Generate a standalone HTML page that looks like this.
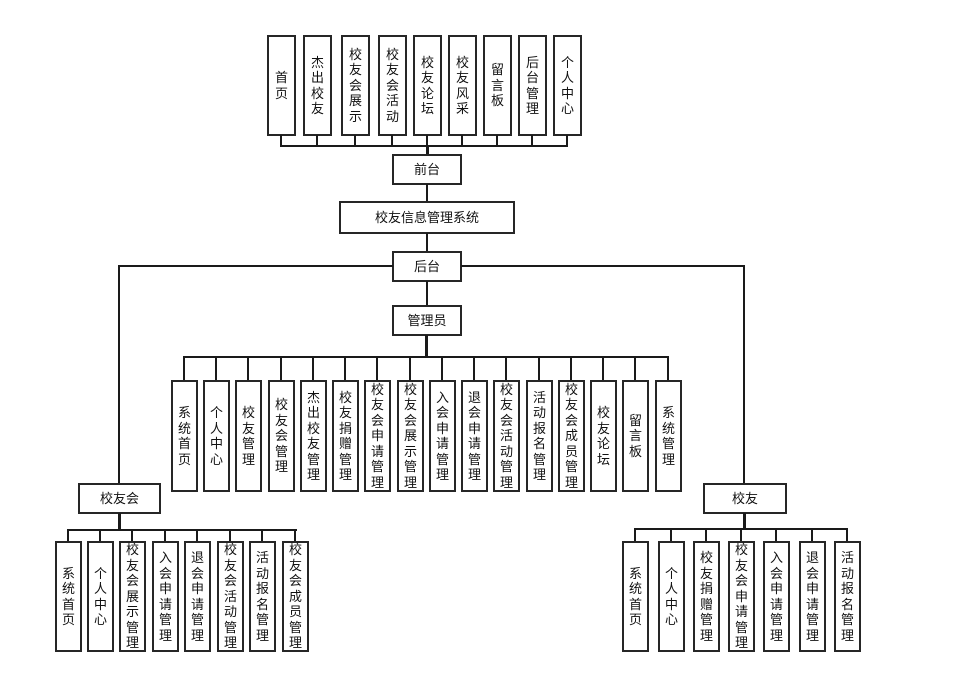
<!DOCTYPE html>
<html><head><meta charset="utf-8"><style>
body{margin:0;background:#fff;}
#c{position:relative;width:978px;height:686px;overflow:hidden;background:#fff;font-family:"Liberation Sans","Noto Sans CJK SC",sans-serif;color:#111;}
.b{position:absolute;border:2px solid #262626;box-sizing:border-box;background:#fff;display:flex;align-items:center;justify-content:center;text-align:center;font-size:13px;line-height:15.5px;}
.h{position:absolute;height:2px;background:#1a1a1a;}
.v{position:absolute;width:2px;background:#1a1a1a;}
</style></head><body><div id="c">
<!-- top row -->
<div class="b" style="left:267px;top:35px;width:29px;height:101px">首<br>页</div>
<div class="b" style="left:303px;top:35px;width:29px;height:101px">杰<br>出<br>校<br>友</div>
<div class="b" style="left:341px;top:35px;width:29px;height:101px">校<br>友<br>会<br>展<br>示</div>
<div class="b" style="left:378px;top:35px;width:29px;height:101px">校<br>友<br>会<br>活<br>动</div>
<div class="b" style="left:413px;top:35px;width:29px;height:101px">校<br>友<br>论<br>坛</div>
<div class="b" style="left:448px;top:35px;width:29px;height:101px">校<br>友<br>风<br>采</div>
<div class="b" style="left:483px;top:35px;width:29px;height:101px">留<br>言<br>板</div>
<div class="b" style="left:518px;top:35px;width:29px;height:101px">后<br>台<br>管<br>理</div>
<div class="b" style="left:553px;top:35px;width:29px;height:101px">个<br>人<br>中<br>心</div>
<div class="v" style="left:280px;top:135px;height:11px"></div>
<div class="v" style="left:316px;top:135px;height:11px"></div>
<div class="v" style="left:354px;top:135px;height:11px"></div>
<div class="v" style="left:391px;top:135px;height:11px"></div>
<div class="v" style="left:426px;top:135px;height:11px"></div>
<div class="v" style="left:461px;top:135px;height:11px"></div>
<div class="v" style="left:496px;top:135px;height:11px"></div>
<div class="v" style="left:531px;top:135px;height:11px"></div>
<div class="v" style="left:566px;top:135px;height:11px"></div>
<div class="h" style="left:280px;top:145px;width:288px"></div>
<div class="v" style="left:426px;top:145px;height:10px;width:3px"></div>
<div class="b" style="left:392px;top:154px;width:70px;height:31px">前台</div>
<div class="v" style="left:426px;top:184px;height:18px"></div>
<div class="b" style="left:339px;top:201px;width:176px;height:33px">校友信息管理系统</div>
<div class="v" style="left:426px;top:233px;height:19px"></div>
<div class="b" style="left:392px;top:251px;width:70px;height:31px">后台</div>
<div class="h" style="left:118px;top:265px;width:275px"></div>
<div class="h" style="left:461px;top:265px;width:284px"></div>
<div class="v" style="left:118px;top:265px;height:219px"></div>
<div class="v" style="left:743px;top:265px;height:219px"></div>
<div class="v" style="left:426px;top:281px;height:25px"></div>
<div class="b" style="left:392px;top:305px;width:70px;height:31px">管理员</div>
<div class="v" style="left:425px;top:335px;height:23px;width:3px"></div>
<div class="h" style="left:183px;top:356px;width:486px"></div>
<!-- admin -->
<div class="v" style="left:183px;top:356px;height:25px"></div>
<div class="v" style="left:215px;top:356px;height:25px"></div>
<div class="v" style="left:247px;top:356px;height:25px"></div>
<div class="v" style="left:280px;top:356px;height:25px"></div>
<div class="v" style="left:312px;top:356px;height:25px"></div>
<div class="v" style="left:344px;top:356px;height:25px"></div>
<div class="v" style="left:376px;top:356px;height:25px"></div>
<div class="v" style="left:409px;top:356px;height:25px"></div>
<div class="v" style="left:441px;top:356px;height:25px"></div>
<div class="v" style="left:473px;top:356px;height:25px"></div>
<div class="v" style="left:505px;top:356px;height:25px"></div>
<div class="v" style="left:538px;top:356px;height:25px"></div>
<div class="v" style="left:570px;top:356px;height:25px"></div>
<div class="v" style="left:602px;top:356px;height:25px"></div>
<div class="v" style="left:634px;top:356px;height:25px"></div>
<div class="v" style="left:667px;top:356px;height:25px"></div>
<div class="b" style="left:171px;top:380px;width:27px;height:112px">系<br>统<br>首<br>页</div>
<div class="b" style="left:203px;top:380px;width:27px;height:112px">个<br>人<br>中<br>心</div>
<div class="b" style="left:235px;top:380px;width:27px;height:112px">校<br>友<br>管<br>理</div>
<div class="b" style="left:268px;top:380px;width:27px;height:112px">校<br>友<br>会<br>管<br>理</div>
<div class="b" style="left:300px;top:380px;width:27px;height:112px">杰<br>出<br>校<br>友<br>管<br>理</div>
<div class="b" style="left:332px;top:380px;width:27px;height:112px">校<br>友<br>捐<br>赠<br>管<br>理</div>
<div class="b" style="left:364px;top:380px;width:27px;height:112px">校<br>友<br>会<br>申<br>请<br>管<br>理</div>
<div class="b" style="left:397px;top:380px;width:27px;height:112px">校<br>友<br>会<br>展<br>示<br>管<br>理</div>
<div class="b" style="left:429px;top:380px;width:27px;height:112px">入<br>会<br>申<br>请<br>管<br>理</div>
<div class="b" style="left:461px;top:380px;width:27px;height:112px">退<br>会<br>申<br>请<br>管<br>理</div>
<div class="b" style="left:493px;top:380px;width:27px;height:112px">校<br>友<br>会<br>活<br>动<br>管<br>理</div>
<div class="b" style="left:526px;top:380px;width:27px;height:112px">活<br>动<br>报<br>名<br>管<br>理</div>
<div class="b" style="left:558px;top:380px;width:27px;height:112px">校<br>友<br>会<br>成<br>员<br>管<br>理</div>
<div class="b" style="left:590px;top:380px;width:27px;height:112px">校<br>友<br>论<br>坛</div>
<div class="b" style="left:622px;top:380px;width:27px;height:112px">留<br>言<br>板</div>
<div class="b" style="left:655px;top:380px;width:27px;height:112px">系<br>统<br>管<br>理</div>
<!-- left -->
<div class="b" style="left:78px;top:483px;width:83px;height:31px">校友会</div>
<div class="v" style="left:118px;top:513px;height:17px;width:3px"></div>
<div class="h" style="left:67px;top:529px;width:230px"></div>
<div class="v" style="left:67px;top:529px;height:13px"></div>
<div class="v" style="left:99px;top:529px;height:13px"></div>
<div class="v" style="left:131px;top:529px;height:13px"></div>
<div class="v" style="left:164px;top:529px;height:13px"></div>
<div class="v" style="left:196px;top:529px;height:13px"></div>
<div class="v" style="left:229px;top:529px;height:13px"></div>
<div class="v" style="left:261px;top:529px;height:13px"></div>
<div class="v" style="left:294px;top:529px;height:13px"></div>
<div class="b" style="left:55px;top:541px;width:27px;height:111px">系<br>统<br>首<br>页</div>
<div class="b" style="left:87px;top:541px;width:27px;height:111px">个<br>人<br>中<br>心</div>
<div class="b" style="left:119px;top:541px;width:27px;height:111px">校<br>友<br>会<br>展<br>示<br>管<br>理</div>
<div class="b" style="left:152px;top:541px;width:27px;height:111px">入<br>会<br>申<br>请<br>管<br>理</div>
<div class="b" style="left:184px;top:541px;width:27px;height:111px">退<br>会<br>申<br>请<br>管<br>理</div>
<div class="b" style="left:217px;top:541px;width:27px;height:111px">校<br>友<br>会<br>活<br>动<br>管<br>理</div>
<div class="b" style="left:249px;top:541px;width:27px;height:111px">活<br>动<br>报<br>名<br>管<br>理</div>
<div class="b" style="left:282px;top:541px;width:27px;height:111px">校<br>友<br>会<br>成<br>员<br>管<br>理</div>
<!-- right -->
<div class="b" style="left:703px;top:483px;width:84px;height:31px">校友</div>
<div class="v" style="left:743px;top:513px;height:17px;width:3px"></div>
<div class="h" style="left:634px;top:528px;width:214px"></div>
<div class="v" style="left:634px;top:528px;height:14px"></div>
<div class="v" style="left:670px;top:528px;height:14px"></div>
<div class="v" style="left:705px;top:528px;height:14px"></div>
<div class="v" style="left:740px;top:528px;height:14px"></div>
<div class="v" style="left:775px;top:528px;height:14px"></div>
<div class="v" style="left:811px;top:528px;height:14px"></div>
<div class="v" style="left:846px;top:528px;height:14px"></div>
<div class="b" style="left:622px;top:541px;width:27px;height:111px">系<br>统<br>首<br>页</div>
<div class="b" style="left:658px;top:541px;width:27px;height:111px">个<br>人<br>中<br>心</div>
<div class="b" style="left:693px;top:541px;width:27px;height:111px">校<br>友<br>捐<br>赠<br>管<br>理</div>
<div class="b" style="left:728px;top:541px;width:27px;height:111px">校<br>友<br>会<br>申<br>请<br>管<br>理</div>
<div class="b" style="left:763px;top:541px;width:27px;height:111px">入<br>会<br>申<br>请<br>管<br>理</div>
<div class="b" style="left:799px;top:541px;width:27px;height:111px">退<br>会<br>申<br>请<br>管<br>理</div>
<div class="b" style="left:834px;top:541px;width:27px;height:111px">活<br>动<br>报<br>名<br>管<br>理</div>
</div></body></html>
